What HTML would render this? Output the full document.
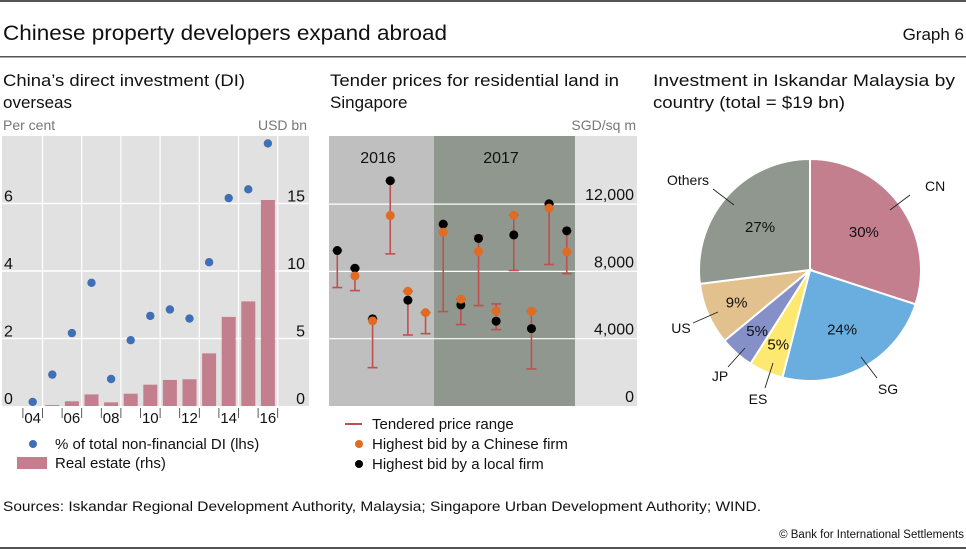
<!DOCTYPE html>
<html><head><meta charset="utf-8"><style>
body{margin:0;background:#fff;}
svg{display:block;font-family:"Liberation Sans",sans-serif;}
</style></head><body>
<svg id="svg" width="966" height="550" viewBox="0 0 966 550">
<rect x="0" y="0" width="966" height="2" fill="#555"/>
<text x="3" y="40" font-size="21" textLength="444" lengthAdjust="spacingAndGlyphs" fill="#111">Chinese property developers expand abroad</text>
<text x="964" y="40" font-size="17" text-anchor="end" fill="#111">Graph 6</text>
<rect x="0" y="56" width="966" height="1.5" fill="#555"/>
<g font-size="17" fill="#111">
<text x="3" y="86" textLength="242" lengthAdjust="spacingAndGlyphs">China’s direct investment (DI)</text>
<text x="3" y="108">overseas</text>
<text x="330" y="86" textLength="289" lengthAdjust="spacingAndGlyphs">Tender prices for residential land in</text>
<text x="330" y="108">Singapore</text>
<text x="653" y="86" textLength="302" lengthAdjust="spacingAndGlyphs">Investment in Iskandar Malaysia by</text>
<text x="653" y="108" textLength="192" lengthAdjust="spacingAndGlyphs">country (total = $19 bn)</text>
</g>
<g id="left"></g>
<g id="mid"></g>
<g id="pie"></g>
<g font-size="15" fill="#111">
<circle cx="33" cy="444" r="4" fill="#3f6fb5"/>
<text x="55" y="449">% of total non-financial DI (lhs)</text>
<rect x="17" y="457" width="30" height="12" fill="#c47f8e"/>
<text x="55" y="468">Real estate (rhs)</text>
<line x1="345" y1="424" x2="362" y2="424" stroke="#c0504d" stroke-width="2"/>
<text x="372" y="429">Tendered price range</text>
<circle cx="359" cy="444" r="4" fill="#e06b23"/>
<text x="372" y="449">Highest bid by a Chinese firm</text>
<circle cx="359" cy="464" r="4" fill="#000"/>
<text x="372" y="469">Highest bid by a local firm</text>
</g>
<text x="3" y="511" font-size="14" fill="#111" textLength="758" lengthAdjust="spacingAndGlyphs">Sources: Iskandar Regional Development Authority, Malaysia; Singapore Urban Development Authority; WIND.</text>
<text x="964" y="538" font-size="11.5" text-anchor="end" fill="#111">© Bank for International Settlements</text>
<rect x="0" y="547" width="966" height="2" fill="#555"/>
</svg>
<script>
const NS="http://www.w3.org/2000/svg";
function mk(p,t,a){const e=document.createElementNS(NS,t);for(const k in a)e.setAttribute(k,a[k]);p.appendChild(e);return e;}

// ---- Left chart data ----
const years=[2004,2005,2006,2007,2008,2009,2010,2011,2012,2013,2014,2015,2016];
const shareValues=[0.12,0.93,2.16,3.65,0.8,1.95,2.67,2.86,2.59,4.26,6.16,6.42,7.78];
const realEstateValues=[0,0.07,0.35,0.86,0.27,0.91,1.58,1.93,1.98,3.9,6.6,7.75,15.26];
const lhsTicks=[0,2,4,6];
const rhsTicks=[0,5,10,15];
const yearLabels=["04","06","08","10","12","14","16"];

// ---- Middle chart data ----
const tenders=[1,2,3,4,5,6,7,8,9,10,11,12,13,14];
const rangeLow=[7040,6860,2280,4220,9040,4300,5610,4840,5970,4540,8050,2200,8410,7870];
const rangeHigh=[9240,8190,5180,6820,13390,5550,10810,6350,10130,6070,11340,5630,12020,10410];
const chineseBid=[null,7730,5060,6820,11320,5550,10330,6350,9180,5650,11340,5630,11760,9160];
const localBid=[9240,8190,5180,6290,13390,null,10810,6010,9960,5040,10170,4600,12020,10410];
const tenderX=[1,2,3,5,4,6,7,8,9,10,11,12,13,14];
const priceTicks=[0,4000,8000,12000];

// ---- Pie data ----
const countries=["CN","SG","ES","JP","US","Others"];
const shares=[30,24,5,5,9,27];

// Left chart
(function(){
 const g=document.getElementById('left');
 const L=2,R=309,T=136,B=406;
 const x=yr=>32.7+(yr-2004)*19.6;
 const yl=v=>B-v*(67.5/2);
 const yr_=v=>B-v*(67.5/5);
 const bg=mk(g,'rect',{x:L,y:T,width:R-L,height:B-T,fill:'#e1e1e1'});
 
 for(let yy=2004.5;yy<2017;yy+=2){const l=mk(g,'line',{x1:x(yy),x2:x(yy),y1:T,y2:B,stroke:'#fff','stroke-width':1.2});
  }
 lhsTicks.forEach(v=>{if(v>0){const l=mk(g,'line',{x1:L,x2:R,y1:yl(v),y2:yl(v),stroke:'#fff','stroke-width':1.5});
  }
  const t=mk(g,'text',{x:4,y:yl(v)-2,'font-size':16,fill:'#111'});t.textContent=v;
  });
 rhsTicks.forEach(v=>{const t=mk(g,'text',{x:305,y:yr_(v)-2,'font-size':16,fill:'#111','text-anchor':'end'});t.textContent=v;
  });
 const u1=mk(g,'text',{x:3,y:130,'font-size':14,fill:'#777'});u1.textContent='Per cent';
 
 const u2=mk(g,'text',{x:307,y:130,'font-size':14,fill:'#777','text-anchor':'end'});u2.textContent='USD bn';
 
 years.forEach((yy,i)=>{const v=realEstateValues[i];if(v>0){const r=mk(g,'rect',{x:x(yy)-7,y:yr_(v),width:14,height:B-yr_(v),fill:'#c47f8e'});
  }});
 years.forEach((yy,i)=>{const c=mk(g,'circle',{cx:x(yy),cy:yl(shareValues[i]),r:4.2,fill:'#3f6fb5'});
  });
 yearLabels.forEach((lb,i)=>{const yy=2004+2*i;
  [yy-0.5,yy+0.5].forEach(b=>{const l=mk(g,'line',{x1:x(b),x2:x(b),y1:408,y2:418,stroke:'#333','stroke-width':0.8});
   });
  const t=mk(g,'text',{x:x(yy),y:423,'font-size':15,fill:'#111','text-anchor':'middle'});t.textContent=lb;
  });
})();

// Middle chart
(function(){
 const g=document.getElementById('mid');
 const L=329,R=637,T=136,B=406;
 const x=i=>337.3+(i-1)*17.65;
 const y=v=>B-v*(67.3/4000);
 const a=mk(g,'rect',{x:L,y:T,width:R-L,height:B-T,fill:'#e1e1e1'});
 const s1=mk(g,'rect',{x:L,y:T,width:434-L,height:B-T,fill:'#bfbfbf'});
 const s2=mk(g,'rect',{x:434,y:T,width:575-434,height:B-T,fill:'#8f978f'});
 priceTicks.forEach(v=>{if(v>0){const l=mk(g,'line',{x1:L,x2:R,y1:y(v),y2:y(v),stroke:'#fff','stroke-width':1.2});
  }
  const t=mk(g,'text',{x:634,y:y(v)-4,'font-size':16,fill:'#111','text-anchor':'end'});t.textContent=v.toLocaleString('en-US');
  });
 const u=mk(g,'text',{x:636,y:130,'font-size':14,fill:'#777','text-anchor':'end'});u.textContent='SGD/sq m';
 
 const y1=mk(g,'text',{x:378,y:163,'font-size':16,fill:'#111','text-anchor':'middle'});y1.textContent='2016';
 
 const y2=mk(g,'text',{x:501,y:163,'font-size':16,fill:'#111','text-anchor':'middle'});y2.textContent='2017';
 
 tenders.forEach((id,i)=>{const cx=x(tenderX[i]);
  const l=mk(g,'line',{x1:cx,x2:cx,y1:y(rangeLow[i]),y2:y(rangeHigh[i]),stroke:'#c0504d','stroke-width':1.6});
  
  const c1=mk(g,'line',{x1:cx-5,x2:cx+5,y1:y(rangeLow[i]),y2:y(rangeLow[i]),stroke:'#c0504d','stroke-width':1.6});
  
  const c2=mk(g,'line',{x1:cx-5,x2:cx+5,y1:y(rangeHigh[i]),y2:y(rangeHigh[i]),stroke:'#c0504d','stroke-width':1.6});
  
  if(localBid[i]!==null){const d=mk(g,'circle',{cx:cx,cy:y(localBid[i]),r:4.5,fill:'#000'});
   }
  if(chineseBid[i]!==null){const d=mk(g,'circle',{cx:cx,cy:y(chineseBid[i]),r:4.5,fill:'#e06b23'});
   }
 });
})();

// Pie
(function(){
 const g=document.getElementById('pie');
 const cx=810,cy=270,r=111;
 const colors=['#c47f8e','#6aaee0','#fde870','#8690c8','#e2c18f','#8f978f'];
 const total=shares.reduce((a,b)=>a+b,0);
 const callout=[[925,191,'start',910,195,890,210],[888,394,'middle',877,378,861,357],[758,404,'middle',765,388,773,363],[720,381,'middle',728,367,745,348],[681,333,'middle',693,323,718,312],[688,185,'middle',713,189,734,205]];
 let a0=0;
 shares.forEach((s,i)=>{const a1=a0+s/total*2*Math.PI;
  const p=(a)=>[cx+r*Math.sin(a),cy-r*Math.cos(a)];
  const [x0,y0]=p(a0),[x1,y1]=p(a1);
  const path=mk(g,'path',{d:`M${cx},${cy}L${x0},${y0}A${r},${r} 0 ${a1-a0>Math.PI?1:0} 1 ${x1},${y1}Z`,fill:colors[i],stroke:'#fff','stroke-width':2});
  
  const am=(a0+a1)/2,lr=r*(s<10?0.72:0.6);
  const t=mk(g,'text',{x:cx+lr*Math.sin(am),y:cy-lr*Math.cos(am)+6,'font-size':15,fill:'#111','text-anchor':'middle'});t.textContent=s+'%';
  
  const c=callout[i];
  const ln=mk(g,'line',{x1:c[3],y1:c[4],x2:c[5],y2:c[6],stroke:'#222','stroke-width':0.9});
  
  const lt=mk(g,'text',{x:c[0],y:c[1],'font-size':14,fill:'#111','text-anchor':c[2]});lt.textContent=countries[i];
  
  a0=a1;});
})();
</script>
</body></html>
